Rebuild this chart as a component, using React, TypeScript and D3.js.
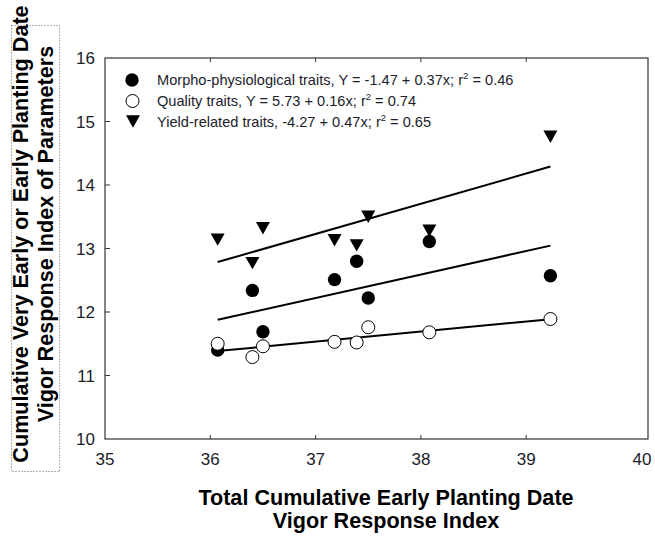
import React, { useEffect, useRef } from "react";
import * as d3 from "d3";

// total cumulative early planting date vigor response index (x)
const cvri = [36.07, 36.4, 36.5, 37.18, 37.39, 37.5, 38.08, 39.23];
// cumulative very early / early planting date VRI of parameters (y)
const morpho = [11.4, 12.34, 11.69, 12.51, 12.8, 12.22, 13.11, 12.57];
const quality = [11.5, 11.29, 11.46, 11.53, 11.52, 11.76, 11.68, 11.89];
const yieldRel = [13.14, 12.77, 13.32, 13.13, 13.05, 13.5, 13.28, 14.76];

const xTicks = [35, 36, 37, 38, 39, 40];
const yTicks = [10, 11, 12, 13, 14, 15, 16];

const legendText = [
  ["Morpho-physiological traits, Y = -1.47 + 0.37x; r", " = 0.46"],
  ["Quality traits, Y = 5.73 + 0.16x; r", " = 0.74"],
  ["Yield-related traits, -4.27 + 0.47x; r", " = 0.65"],
];

const W = 655;
const H = 537;
const left = 105,
  top = 58,
  right = 648,
  bottom = 439;

// least squares fit
function fit(xs: number[], ys: number[]) {
  const mx = d3.mean(xs) as number;
  const my = d3.mean(ys) as number;
  let sxy = 0,
    sxx = 0;
  xs.forEach((x, i) => {
    sxy += (x - mx) * (ys[i] - my);
    sxx += (x - mx) * (x - mx);
  });
  const b = sxy / sxx;
  return { a: my - b * mx, b };
}

const App = () => {
  const svgRef = useRef<SVGSVGElement>(null);

  useEffect(() => {
    const svg = d3.select(svgRef.current);
    svg.selectAll("*").remove();

    const x = d3.scaleLinear().domain([35, 40]).range([left, 631.5]);
    const y = d3.scaleLinear().domain([10, 16]).range([bottom, top]);

    const font = "Arial, 'Liberation Sans', sans-serif";

    // frame
    svg
      .append("rect")
      .attr("x", left)
      .attr("y", top)
      .attr("width", right - left)
      .attr("height", bottom - top)
      .attr("fill", "none")
      .attr("stroke", "#333")
      .attr("stroke-width", 1.2);

    // ticks (inward)
    const g = svg.append("g").attr("stroke", "#333").attr("stroke-width", 1);
    xTicks
      .filter((t) => t > 35 && t < 40)
      .forEach((t) => {
        g.append("line").attr("x1", x(t)).attr("x2", x(t)).attr("y1", bottom).attr("y2", bottom - 4);
        g.append("line").attr("x1", x(t)).attr("x2", x(t)).attr("y1", top).attr("y2", top + 4);
      });
    yTicks
      .filter((t) => t > 10 && t < 16)
      .forEach((t) => {
        g.append("line").attr("x1", left).attr("x2", left + 5).attr("y1", y(t)).attr("y2", y(t));
      });

    // tick labels
    svg
      .append("g")
      .attr("font-family", font)
      .attr("font-size", 17)
      .attr("fill", "#1c1c2a")
      .attr("text-anchor", "middle")
      .selectAll("text")
      .data(xTicks)
      .join("text")
      .attr("x", (d, i) => (i === xTicks.length - 1 ? right - 6 : x(d)))
      .attr("y", 465)
      .text((d) => d);

    svg
      .append("g")
      .attr("font-family", font)
      .attr("font-size", 17)
      .attr("fill", "#1c1c2a")
      .attr("text-anchor", "end")
      .selectAll("text")
      .data(yTicks)
      .join("text")
      .attr("x", 95)
      .attr("y", (d) => y(d))
      .attr("dy", "0.36em")
      .text((d) => d);

    // regression lines
    const xMin = d3.min(cvri) as number;
    const xMax = d3.max(cvri) as number;
    [morpho, quality, yieldRel].forEach((ys) => {
      const { a, b } = fit(cvri, ys);
      svg
        .append("line")
        .attr("x1", x(xMin))
        .attr("y1", y(a + b * xMin))
        .attr("x2", x(xMax))
        .attr("y2", y(a + b * xMax))
        .attr("stroke", "#000")
        .attr("stroke-width", 2);
    });

    const tri = "M-7,-6.2L7,-6.2L0,6.2Z";

    // points
    svg
      .append("g")
      .selectAll("circle")
      .data(morpho)
      .join("circle")
      .attr("cx", (d, i) => x(cvri[i]))
      .attr("cy", (d) => y(d))
      .attr("r", 6.7)
      .attr("fill", "#000");

    svg
      .append("g")
      .selectAll("circle")
      .data(quality)
      .join("circle")
      .attr("cx", (d, i) => x(cvri[i]))
      .attr("cy", (d) => y(d))
      .attr("r", 6.5)
      .attr("fill", "#fff")
      .attr("stroke", "#000")
      .attr("stroke-width", 1);

    svg
      .append("g")
      .selectAll("path")
      .data(yieldRel)
      .join("path")
      .attr("transform", (d, i) => `translate(${x(cvri[i])},${y(d)})`)
      .attr("d", tri)
      .attr("fill", "#000");

    // legend
    const leg = svg.append("g");
    const rows = [80, 101, 121.5];
    leg.append("circle").attr("cx", 132).attr("cy", rows[0]).attr("r", 6.7).attr("fill", "#000");
    leg
      .append("circle")
      .attr("cx", 132.5)
      .attr("cy", rows[1])
      .attr("r", 6.5)
      .attr("fill", "#fff")
      .attr("stroke", "#000");
    leg.append("path").attr("transform", `translate(133,${rows[2]})`).attr("d", tri).attr("fill", "#000");

    legendText.forEach((parts, i) => {
      const t = leg
        .append("text")
        .attr("x", 157)
        .attr("y", rows[i] + 5)
        .attr("font-family", font)
        .attr("font-size", 14.6)
        .attr("fill", "#1c1c2a");
      t.append("tspan").text(parts[0]);
      t.append("tspan").attr("dy", -6).attr("font-size", 9.5).text("2");
      t.append("tspan").attr("dy", 6).text(parts[1]);
    });

    // axis titles
    const xt = svg
      .append("text")
      .attr("font-family", font)
      .attr("font-weight", "bold")
      .attr("font-size", 21.6)
      .attr("text-anchor", "middle")
      .attr("fill", "#000");
    xt.append("tspan").attr("x", 386).attr("y", 505).text("Total Cumulative Early Planting Date");
    xt.append("tspan").attr("x", 386).attr("y", 528).text("Vigor Response Index");

    svg
      .append("rect")
      .attr("x", 11.5)
      .attr("y", 25.5)
      .attr("width", 48)
      .attr("height", 446)
      .attr("fill", "none")
      .attr("stroke", "#666")
      .attr("stroke-width", 1)
      .attr("stroke-dasharray", "1,2");

    const yt = svg
      .append("text")
      .attr("transform", "translate(28,234) rotate(-90)")
      .attr("font-family", font)
      .attr("font-weight", "bold")
      .attr("font-size", 21.6)
      .attr("text-anchor", "middle")
      .attr("fill", "#000");
    yt.append("tspan").attr("x", 0).attr("y", 0).text("Cumulative Very Early or Early Planting Date");
    yt.append("tspan").attr("x", 0).attr("y", 25).text("Vigor Response Index of Parameters");
  }, []);

  return (
    <svg
      ref={svgRef}
      width={W}
      height={H}
      style={{ position: "absolute", left: 0, top: 0, background: "#fff" }}
    />
  );
};

export default App;
